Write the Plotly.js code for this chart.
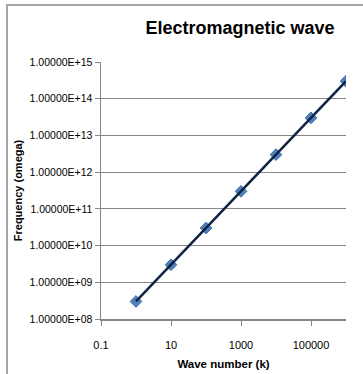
<!DOCTYPE html>
<html><head><meta charset="utf-8">
<script src="https://cdn.plot.ly/plotly-3.0.1.min.js"></script>
<style>
html,body{margin:0;padding:0;background:#fff;}
#wrap{position:relative;width:363px;height:374px;overflow:hidden;}
#chart{width:363px;height:374px;}
#frame{position:absolute;left:6px;top:4px;width:420px;height:420px;border-left:2px solid #a6a6a6;border-top:2px solid #a6a6a6;pointer-events:none;}
</style></head>
<body>
<div id="wrap"><div id="chart"></div><div id="frame"></div></div>
<script>
const waveNumber = [1, 10, 100, 1000, 10000, 100000, 1000000];
const frequency = [3e8, 3e9, 3e10, 3e11, 3e12, 3e13, 3e14];
const xTickVals = [0.1, 10, 1000, 100000];
const xTickText = ['0.1', '10', '1000', '100000'];
const yTickVals = [1e8, 1e9, 1e10, 1e11, 1e12, 1e13, 1e14, 1e15];
const yTickText = ['1.00000E+08','1.00000E+09','1.00000E+10','1.00000E+11','1.00000E+12','1.00000E+13','1.00000E+14','1.00000E+15'];

const font = 'Liberation Sans, Arial, sans-serif';

const traces = [
  {x: waveNumber, y: frequency, mode: 'markers', type: 'scatter',
   marker: {symbol: 'diamond', size: 9, color: '#4f81bd', line: {color: '#3c6eac', width: 1}},
   hoverinfo: 'none', showlegend: false},
  {x: waveNumber, y: frequency, mode: 'lines', type: 'scatter',
   line: {color: '#0f2442', width: 2.5},
   hoverinfo: 'none', showlegend: false}
];

const layout = {
  width: 363, height: 374,
  margin: {l: 101, r: 17, t: 62, b: 55},
  paper_bgcolor: '#ffffff', plot_bgcolor: '#ffffff',
  font: {family: font, size: 11, color: '#000'},
  title: {text: '<b>Electromagnetic wave</b>', font: {family: font, size: 18, color: '#000'},
          x: 240/363, xanchor: 'center', xref: 'container', y: 1 - 28/374, yanchor: 'middle', yref: 'container'},
  xaxis: {type: 'log', range: [-1, 6], tickvals: xTickVals, ticktext: xTickText,
          showgrid: false, zeroline: false, showline: true, linecolor: '#868686', linewidth: 1.5,
          ticks: 'outside', ticklen: 5, tickcolor: '#868686', tickfont: {family: font, size: 11},
          ticklabelstandoff: 10,
          title: {text: '<b>Wave number (k)</b>', font: {family: font, size: 11.5}, standoff: 10}},
  yaxis: {type: 'log', range: [8, 15], tickvals: yTickVals, ticktext: yTickText,
          showgrid: true, gridcolor: '#868686', gridwidth: 1.2, zeroline: false,
          showline: true, linecolor: '#868686', linewidth: 1.5,
          ticks: 'outside', ticklen: 5, tickcolor: '#868686', tickfont: {family: font, size: 10.5},
          title: {text: '<b>Frequency (omega)</b>', font: {family: font, size: 11}, standoff: 5}}
};

Plotly.newPlot('chart', traces, layout, {displayModeBar: false, staticPlot: true});
</script>
</body></html>
